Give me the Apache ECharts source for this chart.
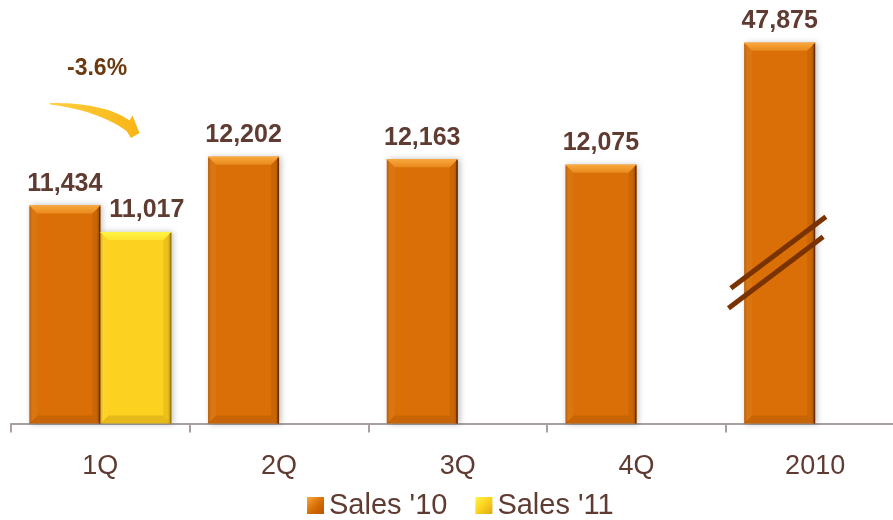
<!DOCTYPE html>
<html>
<head>
<meta charset="utf-8">
<title>Sales by quarter</title>
<script src="https://cdn.jsdelivr.net/npm/echarts@6/dist/echarts.min.js"></script>
<style>
  html, body { margin: 0; padding: 0; background: #ffffff; }
  #chart { width: 893px; height: 520px; }
</style>
</head>
<body>
<div id="chart"></div>
<script>
// ---- data ----
const categories = ['1Q', '2Q', '3Q', '4Q', '2010'];
const sales10 = [11434, 12202, 12163, 12075, 47875];
const sales11 = [11017, null, null, null, null];
const seriesNames = ["Sales '10", "Sales '11"];
const changeLabel = '-3.6%';

// ---- value axis with a break so the yearly total fits ----
const AXIS_MIN = 8000;
const AXIS_MAX = 48000;
const BREAK_START = 13000;
const BREAK_END = 47500;
const BREAK_GAP = 623;

const BAR_W = 71;
const BEVEL = 8;
const FONT = '"Liberation Sans", Arial, sans-serif';
const TEXT_COLOR = '#5F3B32';

const palette = [
  { body: '#D96F06', light: '#F9A83E', mid: '#E98A1C', dark: '#B35500', edge: '#6A2E00' },
  { body: '#FDD11F', light: '#FFF445', mid: '#FEE22E', dark: '#D8AA10', edge: '#9C7A00' }
];

function bodyGradient(p) {
  return new echarts.graphic.LinearGradient(0, 0, 1, 0, [
    { offset: 0, color: p.dark },
    { offset: 0.04, color: p.body },
    { offset: 0.94, color: p.body },
    { offset: 1, color: p.dark }
  ]);
}

function legendGradient(p) {
  return new echarts.graphic.LinearGradient(0, 0, 1, 1, [
    { offset: 0, color: p.light },
    { offset: 0.5, color: p.body },
    { offset: 1, color: p.dark }
  ]);
}

const fmt = v => v.toLocaleString('en-US');

// bevel overlay drawn on top of each bar
const bevelData = [];
[sales10, sales11].forEach((arr, s) => {
  arr.forEach((v, i) => { if (v != null) bevelData.push([i, v, s]); });
});

function renderBevel(params, api) {
  const i = api.value(0), v = api.value(1), s = api.value(2);
  const top = api.coord([i, v]);
  const base = api.coord([i, AXIS_MIN]);
  const x0 = top[0] - BAR_W + s * BAR_W;
  const x1 = x0 + BAR_W;
  const y0 = top[1];
  const y1 = base[1];
  const b = BEVEL;
  const p = palette[s];
  return {
    type: 'group',
    children: [
      {
        type: 'polygon',
        shape: { points: [[x0, y0], [x1, y0], [x1 - b, y0 + b], [x0 + b, y0 + b]] },
        style: {
          fill: new echarts.graphic.LinearGradient(0, 0, 0, 1, [
            { offset: 0, color: p.light },
            { offset: 1, color: p.mid }
          ])
        }
      },
      {
        type: 'polygon',
        shape: { points: [[x0, y0], [x0 + b, y0 + b], [x0 + b, y1 - b], [x0, y1]] },
        style: { fill: 'rgba(255,255,255,0.05)' }
      },
      {
        type: 'polygon',
        shape: { points: [[x1, y0], [x1, y1], [x1 - b, y1 - b], [x1 - b, y0 + b]] },
        style: { fill: 'rgba(0,0,0,0.07)' }
      },
      {
        type: 'polygon',
        shape: { points: [[x0, y1], [x1, y1], [x1 - b, y1 - b], [x0 + b, y1 - b]] },
        style: { fill: 'rgba(90,40,0,0.14)' }
      },
      {
        type: 'line',
        shape: { x1: x1 - 0.75, y1: y0, x2: x1 - 0.75, y2: y1 },
        style: { stroke: p.edge, lineWidth: 1.5 }
      },
      {
        type: 'line',
        shape: { x1: x0, y1: y0 + 0.5, x2: x1, y2: y0 + 0.5 },
        style: { stroke: p.light, lineWidth: 1 }
      }
    ]
  };
}

// two slashes across the yearly bar mark the broken scale
function renderBreakMarks(params, api) {
  const i = api.value(0);
  const base = api.coord([i, AXIS_MIN]);
  const cx = base[0] - BAR_W / 2;
  const by = base[1];
  const seg = (ax, ay, bx, by2) => ({
    type: 'line',
    shape: { x1: cx + ax, y1: by + ay, x2: cx + bx, y2: by + by2 },
    style: { stroke: '#7A3200', lineWidth: 5, lineCap: 'butt' }
  });
  return {
    type: 'group',
    children: [
      seg(-48.8, -135.2, 46.2, -206.8),
      seg(-51.2, -115.2, 43.5, -186.8)
    ]
  };
}

// curved arrow under the change label, built from quadratic curves
function quad(p0, c, p1, n) {
  const pts = [];
  for (let k = 0; k <= n; k++) {
    const t = k / n, u = 1 - t;
    pts.push([u * u * p0[0] + 2 * u * t * c[0] + t * t * p1[0],
              u * u * p0[1] + 2 * u * t * c[1] + t * t * p1[1]]);
  }
  return pts;
}
const arrowPoints = []
  .concat(quad([50, 103], [104, 102.5], [129.5, 120.5], 24))
  .concat([[132.5, 115.5], [139.5, 133], [131, 138]])
  .concat(quad([126.5, 131], [98, 110.5], [50, 104.5], 24));

const labelStyle = {
  show: true,
  position: 'top',
  distance: 9,
  fontFamily: FONT,
  fontSize: 25,
  fontWeight: 'bold',
  color: TEXT_COLOR,
  formatter: p => fmt(p.value)
};

const chart = echarts.init(document.getElementById('chart'), null, { renderer: 'canvas' });

chart.setOption({
  animation: false,
  backgroundColor: '#ffffff',
  grid: { left: 11, width: 893.5, top: 34.7, bottom: 96.5, containLabel: false, outerBoundsMode: 'none' },
  legend: {
    left: 307,
    top: 491,
    padding: 0,
    itemWidth: 17,
    itemHeight: 17,
    itemGap: 28,
    icon: 'rect',
    data: [
      { name: seriesNames[0], itemStyle: { color: legendGradient(palette[0]) } },
      { name: seriesNames[1], itemStyle: { color: legendGradient(palette[1]) } }
    ],
    textStyle: { fontFamily: FONT, fontSize: 29, color: TEXT_COLOR }
  },
  xAxis: {
    type: 'category',
    data: categories,
    axisLine: { show: true, lineStyle: { color: '#A8A0A0', width: 2 } },
    axisTick: { show: true, length: 9, lineStyle: { color: '#A8A0A0', width: 2 } },
    axisLabel: { fontFamily: FONT, fontSize: 27, color: TEXT_COLOR, margin: 30 },
    splitLine: { show: false }
  },
  yAxis: {
    type: 'value',
    min: AXIS_MIN,
    max: AXIS_MAX,
    show: false,
    splitLine: { show: false },
    breaks: [{ start: BREAK_START, end: BREAK_END, gap: BREAK_GAP }],
    breakArea: { show: false, expandOnClick: false }
  },
  series: [
    {
      name: seriesNames[0],
      type: 'bar',
      data: sales10,
      barWidth: BAR_W,
      barGap: '0%',
      itemStyle: {
        color: bodyGradient(palette[0]),
        shadowBlur: 6,
        shadowColor: 'rgba(0,0,0,0.25)',
        shadowOffsetX: 2
      },
      label: labelStyle,
      z: 2
    },
    {
      name: seriesNames[1],
      type: 'bar',
      data: sales11,
      barWidth: BAR_W,
      barGap: '0%',
      itemStyle: {
        color: bodyGradient(palette[1]),
        shadowBlur: 6,
        shadowColor: 'rgba(0,0,0,0.25)',
        shadowOffsetX: 2
      },
      label: Object.assign({}, labelStyle, { offset: [11, 0] }),
      z: 2
    },
    {
      type: 'custom',
      name: 'bevel',
      data: bevelData,
      renderItem: renderBevel,
      silent: true,
      clip: false,
      z: 3
    },
    {
      type: 'custom',
      name: 'breakMarks',
      data: [[categories.length - 1, sales10[categories.length - 1]]],
      renderItem: renderBreakMarks,
      silent: true,
      clip: false,
      z: 4
    }
  ],
  graphic: [
    {
      type: 'text',
      left: 67,
      top: 57,
      style: {
        text: changeLabel,
        fontFamily: FONT,
        fontSize: 23,
        fontWeight: 'bold',
        fill: '#6B3A10'
      }
    },
    {
      type: 'polygon',
      shape: { points: arrowPoints },
      style: {
        fill: new echarts.graphic.LinearGradient(0, 0, 1, 0, [
          { offset: 0, color: '#FFD040' },
          { offset: 1, color: '#F9B414' }
        ])
      }
    }
  ]
});
</script>
</body>
</html>
